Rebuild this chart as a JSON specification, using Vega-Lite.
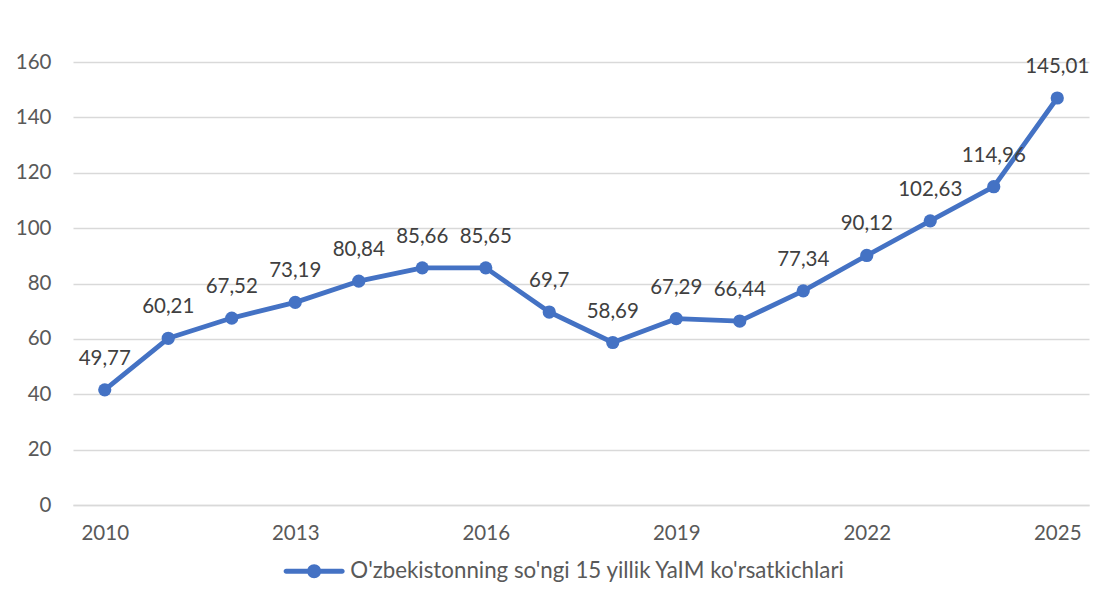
{
  "$schema": "https://vega.github.io/schema/vega-lite/v6.json",
  "autosize": {"type": "none"},
  "padding": {"left": 73, "top": 62, "right": 4, "bottom": 95},
  "width": 1016,
  "height": 443,
  "background": "white",
  "config": {
    "font": "Lato",
    "view": {"stroke": null},
    "axis": {"labelFont": "Lato", "labelFontSize": 20.5, "labelColor": "#595959", "title": null}
  },
  "data": {
    "values": [
      {"year": 2010, "value": 41.6, "label": "49,77", "series": "O'zbekistonning so'ngi 15 yillik YaIM ko'rsatkichlari"},
      {"year": 2011, "value": 60.21, "label": "60,21", "series": "O'zbekistonning so'ngi 15 yillik YaIM ko'rsatkichlari"},
      {"year": 2012, "value": 67.52, "label": "67,52", "series": "O'zbekistonning so'ngi 15 yillik YaIM ko'rsatkichlari"},
      {"year": 2013, "value": 73.19, "label": "73,19", "series": "O'zbekistonning so'ngi 15 yillik YaIM ko'rsatkichlari"},
      {"year": 2014, "value": 80.84, "label": "80,84", "series": "O'zbekistonning so'ngi 15 yillik YaIM ko'rsatkichlari"},
      {"year": 2015, "value": 85.66, "label": "85,66", "series": "O'zbekistonning so'ngi 15 yillik YaIM ko'rsatkichlari"},
      {"year": 2016, "value": 85.65, "label": "85,65", "series": "O'zbekistonning so'ngi 15 yillik YaIM ko'rsatkichlari"},
      {"year": 2017, "value": 69.7, "label": "69,7", "series": "O'zbekistonning so'ngi 15 yillik YaIM ko'rsatkichlari"},
      {"year": 2018, "value": 58.69, "label": "58,69", "series": "O'zbekistonning so'ngi 15 yillik YaIM ko'rsatkichlari"},
      {"year": 2019, "value": 67.29, "label": "67,29", "series": "O'zbekistonning so'ngi 15 yillik YaIM ko'rsatkichlari"},
      {"year": 2020, "value": 66.44, "label": "66,44", "series": "O'zbekistonning so'ngi 15 yillik YaIM ko'rsatkichlari"},
      {"year": 2021, "value": 77.34, "label": "77,34", "series": "O'zbekistonning so'ngi 15 yillik YaIM ko'rsatkichlari"},
      {"year": 2022, "value": 90.12, "label": "90,12", "series": "O'zbekistonning so'ngi 15 yillik YaIM ko'rsatkichlari"},
      {"year": 2023, "value": 102.63, "label": "102,63", "series": "O'zbekistonning so'ngi 15 yillik YaIM ko'rsatkichlari"},
      {"year": 2024, "value": 114.96, "label": "114,96", "series": "O'zbekistonning so'ngi 15 yillik YaIM ko'rsatkichlari"},
      {"year": 2025, "value": 147.0, "label": "145,01", "series": "O'zbekistonning so'ngi 15 yillik YaIM ko'rsatkichlari"}
    ]
  },
  "encoding": {
    "x": {
      "field": "year", "type": "ordinal",
      "scale": {"type": "point", "padding": 0.5},
      "axis": {
        "values": [2010, 2013, 2016, 2019, 2022, 2025],
        "labelAngle": 0, "ticks": false, "grid": false,
        "domainColor": "#D9D9D9", "domainWidth": 1.5, "labelPadding": 18
      }
    },
    "y": {
      "field": "value", "type": "quantitative",
      "scale": {"domain": [0, 160], "nice": false, "zero": true},
      "axis": {
        "values": [0, 20, 40, 60, 80, 100, 120, 140, 160],
        "ticks": false, "domain": false, "gridColor": "#D9D9D9", "gridWidth": 1.5,
        "labelPadding": 22
      }
    }
  },
  "layer": [
    {
      "mark": {"type": "line", "strokeWidth": 4.8, "strokeCap": "round", "strokeJoin": "round"},
      "encoding": {
        "color": {
          "field": "series", "type": "nominal",
          "scale": {"range": ["#4472C4"]},
          "legend": {
            "orient": "none", "legendX": 230, "legendY": 498,
            "title": null,
            "symbolType": "M-4,-0.36 L-0.9,-0.36 L-0.9,0.36 L-4,0.36 A0.36,0.36 0 0,1 -4,-0.36 Z M0.9,-0.36 L4,-0.36 A0.36,0.36 0 0,1 4,0.36 L0.9,0.36 Z M1,0 A1,1 0 1,1 -1,0 A1,1 0 1,1 1,0 Z",
            "symbolSize": 196,
            "labelFont": "Lato", "labelFontSize": 22.3, "labelColor": "#595959",
            "labelOffset": 25,
            "labelLimit": 900,
            "encode": {"symbols": {"update": {"fill": {"value": "#4472C4"}, "stroke": {"value": "transparent"}, "strokeWidth": {"value": 0}}}}
          }
        }
      }
    },
    {
      "mark": {"type": "point", "filled": true, "size": 175, "opacity": 1, "color": "#4472C4"},
      "encoding": {}
    },
    {
      "mark": {"type": "text", "dy": -25, "baseline": "alphabetic", "fontSize": 20.5, "font": "Lato", "color": "#404040"},
      "encoding": {"text": {"field": "label"}}
    }
  ]
}
